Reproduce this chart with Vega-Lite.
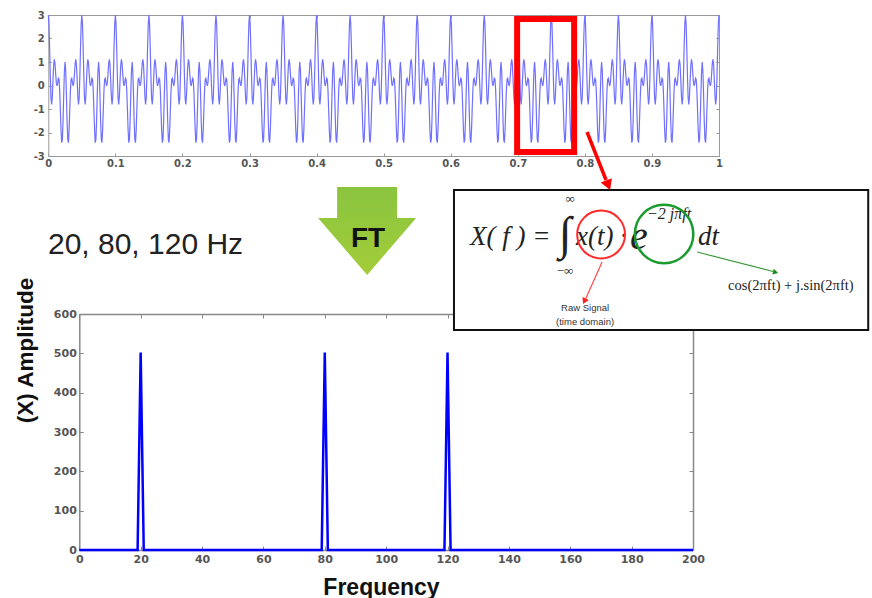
{
"$schema":"https://vega.github.io/schema/vega-lite/v6.json",
"width":872,"height":598,"autosize":{"type":"none"},"padding":0,"background":"white",
"config":{"view":{"stroke":null},"axis":{"grid":false,"labelFlush":false,"labelOverlap":false}},
"data":{"values":[{}]},
"datasets":{
"spectrum":[{"f":0,"a":0},{"f":19,"a":0},{"f":20,"a":502},{"f":21,"a":0},{"f":79,"a":0},{"f":80,"a":502},{"f":81,"a":0},{"f":119,"a":0},{"f":120,"a":502},{"f":121,"a":0},{"f":200,"a":0}],
"signal":[
{"ms":0,"v":3},{"ms":1,"v":2.6},{"ms":2,"v":1.57},{"ms":3,"v":0.36},{"ms":4,"v":-0.54},{"ms":5,"v":-0.81},{"ms":6,"v":-0.45},{"ms":7,"v":0.24},{"ms":8,"v":0.87},{"ms":9,"v":1.11},{"ms":10,"v":0.93},{"ms":11,"v":0.49},{"ms":12,"v":0.1},{"ms":13,"v":-0.02},{"ms":14,"v":0.12},{"ms":15,"v":0.31},{"ms":16,"v":0.26},{"ms":17,"v":-0.2},{"ms":18,"v":-1.03},{"ms":19,"v":-1.91},{"ms":20,"v":-2.43},{"ms":21,"v":-2.29},{"ms":22,"v":-1.5},{"ms":23,"v":-0.37},{"ms":24,"v":0.61},{"ms":25,"v":1},{"ms":26,"v":0.61},{"ms":27,"v":-0.37},{"ms":28,"v":-1.5},{"ms":29,"v":-2.29},{"ms":30,"v":-2.43},{"ms":31,"v":-1.91},{"ms":32,"v":-1.03},{"ms":33,"v":-0.2},{"ms":34,"v":0.26},{"ms":35,"v":0.31},{"ms":36,"v":0.12},{"ms":37,"v":-0.02},{"ms":38,"v":0.1},{"ms":39,"v":0.49},{"ms":40,"v":0.93},{"ms":41,"v":1.11},{"ms":42,"v":0.87},{"ms":43,"v":0.24},{"ms":44,"v":-0.45},{"ms":45,"v":-0.81},{"ms":46,"v":-0.54},{"ms":47,"v":0.36},{"ms":48,"v":1.57},{"ms":49,"v":2.6},
{"ms":50,"v":3},{"ms":51,"v":2.6},{"ms":52,"v":1.57},{"ms":53,"v":0.36},{"ms":54,"v":-0.54},{"ms":55,"v":-0.81},{"ms":56,"v":-0.45},{"ms":57,"v":0.24},{"ms":58,"v":0.87},{"ms":59,"v":1.11},{"ms":60,"v":0.93},{"ms":61,"v":0.49},{"ms":62,"v":0.1},{"ms":63,"v":-0.02},{"ms":64,"v":0.12},{"ms":65,"v":0.31},{"ms":66,"v":0.26},{"ms":67,"v":-0.2},{"ms":68,"v":-1.03},{"ms":69,"v":-1.91},{"ms":70,"v":-2.43},{"ms":71,"v":-2.29},{"ms":72,"v":-1.5},{"ms":73,"v":-0.37},{"ms":74,"v":0.61},{"ms":75,"v":1},{"ms":76,"v":0.61},{"ms":77,"v":-0.37},{"ms":78,"v":-1.5},{"ms":79,"v":-2.29},{"ms":80,"v":-2.43},{"ms":81,"v":-1.91},{"ms":82,"v":-1.03},{"ms":83,"v":-0.2},{"ms":84,"v":0.26},{"ms":85,"v":0.31},{"ms":86,"v":0.12},{"ms":87,"v":-0.02},{"ms":88,"v":0.1},{"ms":89,"v":0.49},{"ms":90,"v":0.93},{"ms":91,"v":1.11},{"ms":92,"v":0.87},{"ms":93,"v":0.24},{"ms":94,"v":-0.45},{"ms":95,"v":-0.81},{"ms":96,"v":-0.54},{"ms":97,"v":0.36},{"ms":98,"v":1.57},{"ms":99,"v":2.6},
{"ms":100,"v":3},{"ms":101,"v":2.6},{"ms":102,"v":1.57},{"ms":103,"v":0.36},{"ms":104,"v":-0.54},{"ms":105,"v":-0.81},{"ms":106,"v":-0.45},{"ms":107,"v":0.24},{"ms":108,"v":0.87},{"ms":109,"v":1.11},{"ms":110,"v":0.93},{"ms":111,"v":0.49},{"ms":112,"v":0.1},{"ms":113,"v":-0.02},{"ms":114,"v":0.12},{"ms":115,"v":0.31},{"ms":116,"v":0.26},{"ms":117,"v":-0.2},{"ms":118,"v":-1.03},{"ms":119,"v":-1.91},{"ms":120,"v":-2.43},{"ms":121,"v":-2.29},{"ms":122,"v":-1.5},{"ms":123,"v":-0.37},{"ms":124,"v":0.61},{"ms":125,"v":1},{"ms":126,"v":0.61},{"ms":127,"v":-0.37},{"ms":128,"v":-1.5},{"ms":129,"v":-2.29},{"ms":130,"v":-2.43},{"ms":131,"v":-1.91},{"ms":132,"v":-1.03},{"ms":133,"v":-0.2},{"ms":134,"v":0.26},{"ms":135,"v":0.31},{"ms":136,"v":0.12},{"ms":137,"v":-0.02},{"ms":138,"v":0.1},{"ms":139,"v":0.49},{"ms":140,"v":0.93},{"ms":141,"v":1.11},{"ms":142,"v":0.87},{"ms":143,"v":0.24},{"ms":144,"v":-0.45},{"ms":145,"v":-0.81},{"ms":146,"v":-0.54},{"ms":147,"v":0.36},{"ms":148,"v":1.57},{"ms":149,"v":2.6},
{"ms":150,"v":3},{"ms":151,"v":2.6},{"ms":152,"v":1.57},{"ms":153,"v":0.36},{"ms":154,"v":-0.54},{"ms":155,"v":-0.81},{"ms":156,"v":-0.45},{"ms":157,"v":0.24},{"ms":158,"v":0.87},{"ms":159,"v":1.11},{"ms":160,"v":0.93},{"ms":161,"v":0.49},{"ms":162,"v":0.1},{"ms":163,"v":-0.02},{"ms":164,"v":0.12},{"ms":165,"v":0.31},{"ms":166,"v":0.26},{"ms":167,"v":-0.2},{"ms":168,"v":-1.03},{"ms":169,"v":-1.91},{"ms":170,"v":-2.43},{"ms":171,"v":-2.29},{"ms":172,"v":-1.5},{"ms":173,"v":-0.37},{"ms":174,"v":0.61},{"ms":175,"v":1},{"ms":176,"v":0.61},{"ms":177,"v":-0.37},{"ms":178,"v":-1.5},{"ms":179,"v":-2.29},{"ms":180,"v":-2.43},{"ms":181,"v":-1.91},{"ms":182,"v":-1.03},{"ms":183,"v":-0.2},{"ms":184,"v":0.26},{"ms":185,"v":0.31},{"ms":186,"v":0.12},{"ms":187,"v":-0.02},{"ms":188,"v":0.1},{"ms":189,"v":0.49},{"ms":190,"v":0.93},{"ms":191,"v":1.11},{"ms":192,"v":0.87},{"ms":193,"v":0.24},{"ms":194,"v":-0.45},{"ms":195,"v":-0.81},{"ms":196,"v":-0.54},{"ms":197,"v":0.36},{"ms":198,"v":1.57},{"ms":199,"v":2.6},
{"ms":200,"v":3},{"ms":201,"v":2.6},{"ms":202,"v":1.57},{"ms":203,"v":0.36},{"ms":204,"v":-0.54},{"ms":205,"v":-0.81},{"ms":206,"v":-0.45},{"ms":207,"v":0.24},{"ms":208,"v":0.87},{"ms":209,"v":1.11},{"ms":210,"v":0.93},{"ms":211,"v":0.49},{"ms":212,"v":0.1},{"ms":213,"v":-0.02},{"ms":214,"v":0.12},{"ms":215,"v":0.31},{"ms":216,"v":0.26},{"ms":217,"v":-0.2},{"ms":218,"v":-1.03},{"ms":219,"v":-1.91},{"ms":220,"v":-2.43},{"ms":221,"v":-2.29},{"ms":222,"v":-1.5},{"ms":223,"v":-0.37},{"ms":224,"v":0.61},{"ms":225,"v":1},{"ms":226,"v":0.61},{"ms":227,"v":-0.37},{"ms":228,"v":-1.5},{"ms":229,"v":-2.29},{"ms":230,"v":-2.43},{"ms":231,"v":-1.91},{"ms":232,"v":-1.03},{"ms":233,"v":-0.2},{"ms":234,"v":0.26},{"ms":235,"v":0.31},{"ms":236,"v":0.12},{"ms":237,"v":-0.02},{"ms":238,"v":0.1},{"ms":239,"v":0.49},{"ms":240,"v":0.93},{"ms":241,"v":1.11},{"ms":242,"v":0.87},{"ms":243,"v":0.24},{"ms":244,"v":-0.45},{"ms":245,"v":-0.81},{"ms":246,"v":-0.54},{"ms":247,"v":0.36},{"ms":248,"v":1.57},{"ms":249,"v":2.6},
{"ms":250,"v":3},{"ms":251,"v":2.6},{"ms":252,"v":1.57},{"ms":253,"v":0.36},{"ms":254,"v":-0.54},{"ms":255,"v":-0.81},{"ms":256,"v":-0.45},{"ms":257,"v":0.24},{"ms":258,"v":0.87},{"ms":259,"v":1.11},{"ms":260,"v":0.93},{"ms":261,"v":0.49},{"ms":262,"v":0.1},{"ms":263,"v":-0.02},{"ms":264,"v":0.12},{"ms":265,"v":0.31},{"ms":266,"v":0.26},{"ms":267,"v":-0.2},{"ms":268,"v":-1.03},{"ms":269,"v":-1.91},{"ms":270,"v":-2.43},{"ms":271,"v":-2.29},{"ms":272,"v":-1.5},{"ms":273,"v":-0.37},{"ms":274,"v":0.61},{"ms":275,"v":1},{"ms":276,"v":0.61},{"ms":277,"v":-0.37},{"ms":278,"v":-1.5},{"ms":279,"v":-2.29},{"ms":280,"v":-2.43},{"ms":281,"v":-1.91},{"ms":282,"v":-1.03},{"ms":283,"v":-0.2},{"ms":284,"v":0.26},{"ms":285,"v":0.31},{"ms":286,"v":0.12},{"ms":287,"v":-0.02},{"ms":288,"v":0.1},{"ms":289,"v":0.49},{"ms":290,"v":0.93},{"ms":291,"v":1.11},{"ms":292,"v":0.87},{"ms":293,"v":0.24},{"ms":294,"v":-0.45},{"ms":295,"v":-0.81},{"ms":296,"v":-0.54},{"ms":297,"v":0.36},{"ms":298,"v":1.57},{"ms":299,"v":2.6},
{"ms":300,"v":3},{"ms":301,"v":2.6},{"ms":302,"v":1.57},{"ms":303,"v":0.36},{"ms":304,"v":-0.54},{"ms":305,"v":-0.81},{"ms":306,"v":-0.45},{"ms":307,"v":0.24},{"ms":308,"v":0.87},{"ms":309,"v":1.11},{"ms":310,"v":0.93},{"ms":311,"v":0.49},{"ms":312,"v":0.1},{"ms":313,"v":-0.02},{"ms":314,"v":0.12},{"ms":315,"v":0.31},{"ms":316,"v":0.26},{"ms":317,"v":-0.2},{"ms":318,"v":-1.03},{"ms":319,"v":-1.91},{"ms":320,"v":-2.43},{"ms":321,"v":-2.29},{"ms":322,"v":-1.5},{"ms":323,"v":-0.37},{"ms":324,"v":0.61},{"ms":325,"v":1},{"ms":326,"v":0.61},{"ms":327,"v":-0.37},{"ms":328,"v":-1.5},{"ms":329,"v":-2.29},{"ms":330,"v":-2.43},{"ms":331,"v":-1.91},{"ms":332,"v":-1.03},{"ms":333,"v":-0.2},{"ms":334,"v":0.26},{"ms":335,"v":0.31},{"ms":336,"v":0.12},{"ms":337,"v":-0.02},{"ms":338,"v":0.1},{"ms":339,"v":0.49},{"ms":340,"v":0.93},{"ms":341,"v":1.11},{"ms":342,"v":0.87},{"ms":343,"v":0.24},{"ms":344,"v":-0.45},{"ms":345,"v":-0.81},{"ms":346,"v":-0.54},{"ms":347,"v":0.36},{"ms":348,"v":1.57},{"ms":349,"v":2.6},
{"ms":350,"v":3},{"ms":351,"v":2.6},{"ms":352,"v":1.57},{"ms":353,"v":0.36},{"ms":354,"v":-0.54},{"ms":355,"v":-0.81},{"ms":356,"v":-0.45},{"ms":357,"v":0.24},{"ms":358,"v":0.87},{"ms":359,"v":1.11},{"ms":360,"v":0.93},{"ms":361,"v":0.49},{"ms":362,"v":0.1},{"ms":363,"v":-0.02},{"ms":364,"v":0.12},{"ms":365,"v":0.31},{"ms":366,"v":0.26},{"ms":367,"v":-0.2},{"ms":368,"v":-1.03},{"ms":369,"v":-1.91},{"ms":370,"v":-2.43},{"ms":371,"v":-2.29},{"ms":372,"v":-1.5},{"ms":373,"v":-0.37},{"ms":374,"v":0.61},{"ms":375,"v":1},{"ms":376,"v":0.61},{"ms":377,"v":-0.37},{"ms":378,"v":-1.5},{"ms":379,"v":-2.29},{"ms":380,"v":-2.43},{"ms":381,"v":-1.91},{"ms":382,"v":-1.03},{"ms":383,"v":-0.2},{"ms":384,"v":0.26},{"ms":385,"v":0.31},{"ms":386,"v":0.12},{"ms":387,"v":-0.02},{"ms":388,"v":0.1},{"ms":389,"v":0.49},{"ms":390,"v":0.93},{"ms":391,"v":1.11},{"ms":392,"v":0.87},{"ms":393,"v":0.24},{"ms":394,"v":-0.45},{"ms":395,"v":-0.81},{"ms":396,"v":-0.54},{"ms":397,"v":0.36},{"ms":398,"v":1.57},{"ms":399,"v":2.6},
{"ms":400,"v":3},{"ms":401,"v":2.6},{"ms":402,"v":1.57},{"ms":403,"v":0.36},{"ms":404,"v":-0.54},{"ms":405,"v":-0.81},{"ms":406,"v":-0.45},{"ms":407,"v":0.24},{"ms":408,"v":0.87},{"ms":409,"v":1.11},{"ms":410,"v":0.93},{"ms":411,"v":0.49},{"ms":412,"v":0.1},{"ms":413,"v":-0.02},{"ms":414,"v":0.12},{"ms":415,"v":0.31},{"ms":416,"v":0.26},{"ms":417,"v":-0.2},{"ms":418,"v":-1.03},{"ms":419,"v":-1.91},{"ms":420,"v":-2.43},{"ms":421,"v":-2.29},{"ms":422,"v":-1.5},{"ms":423,"v":-0.37},{"ms":424,"v":0.61},{"ms":425,"v":1},{"ms":426,"v":0.61},{"ms":427,"v":-0.37},{"ms":428,"v":-1.5},{"ms":429,"v":-2.29},{"ms":430,"v":-2.43},{"ms":431,"v":-1.91},{"ms":432,"v":-1.03},{"ms":433,"v":-0.2},{"ms":434,"v":0.26},{"ms":435,"v":0.31},{"ms":436,"v":0.12},{"ms":437,"v":-0.02},{"ms":438,"v":0.1},{"ms":439,"v":0.49},{"ms":440,"v":0.93},{"ms":441,"v":1.11},{"ms":442,"v":0.87},{"ms":443,"v":0.24},{"ms":444,"v":-0.45},{"ms":445,"v":-0.81},{"ms":446,"v":-0.54},{"ms":447,"v":0.36},{"ms":448,"v":1.57},{"ms":449,"v":2.6},
{"ms":450,"v":3},{"ms":451,"v":2.6},{"ms":452,"v":1.57},{"ms":453,"v":0.36},{"ms":454,"v":-0.54},{"ms":455,"v":-0.81},{"ms":456,"v":-0.45},{"ms":457,"v":0.24},{"ms":458,"v":0.87},{"ms":459,"v":1.11},{"ms":460,"v":0.93},{"ms":461,"v":0.49},{"ms":462,"v":0.1},{"ms":463,"v":-0.02},{"ms":464,"v":0.12},{"ms":465,"v":0.31},{"ms":466,"v":0.26},{"ms":467,"v":-0.2},{"ms":468,"v":-1.03},{"ms":469,"v":-1.91},{"ms":470,"v":-2.43},{"ms":471,"v":-2.29},{"ms":472,"v":-1.5},{"ms":473,"v":-0.37},{"ms":474,"v":0.61},{"ms":475,"v":1},{"ms":476,"v":0.61},{"ms":477,"v":-0.37},{"ms":478,"v":-1.5},{"ms":479,"v":-2.29},{"ms":480,"v":-2.43},{"ms":481,"v":-1.91},{"ms":482,"v":-1.03},{"ms":483,"v":-0.2},{"ms":484,"v":0.26},{"ms":485,"v":0.31},{"ms":486,"v":0.12},{"ms":487,"v":-0.02},{"ms":488,"v":0.1},{"ms":489,"v":0.49},{"ms":490,"v":0.93},{"ms":491,"v":1.11},{"ms":492,"v":0.87},{"ms":493,"v":0.24},{"ms":494,"v":-0.45},{"ms":495,"v":-0.81},{"ms":496,"v":-0.54},{"ms":497,"v":0.36},{"ms":498,"v":1.57},{"ms":499,"v":2.6},
{"ms":500,"v":3},{"ms":501,"v":2.6},{"ms":502,"v":1.57},{"ms":503,"v":0.36},{"ms":504,"v":-0.54},{"ms":505,"v":-0.81},{"ms":506,"v":-0.45},{"ms":507,"v":0.24},{"ms":508,"v":0.87},{"ms":509,"v":1.11},{"ms":510,"v":0.93},{"ms":511,"v":0.49},{"ms":512,"v":0.1},{"ms":513,"v":-0.02},{"ms":514,"v":0.12},{"ms":515,"v":0.31},{"ms":516,"v":0.26},{"ms":517,"v":-0.2},{"ms":518,"v":-1.03},{"ms":519,"v":-1.91},{"ms":520,"v":-2.43},{"ms":521,"v":-2.29},{"ms":522,"v":-1.5},{"ms":523,"v":-0.37},{"ms":524,"v":0.61},{"ms":525,"v":1},{"ms":526,"v":0.61},{"ms":527,"v":-0.37},{"ms":528,"v":-1.5},{"ms":529,"v":-2.29},{"ms":530,"v":-2.43},{"ms":531,"v":-1.91},{"ms":532,"v":-1.03},{"ms":533,"v":-0.2},{"ms":534,"v":0.26},{"ms":535,"v":0.31},{"ms":536,"v":0.12},{"ms":537,"v":-0.02},{"ms":538,"v":0.1},{"ms":539,"v":0.49},{"ms":540,"v":0.93},{"ms":541,"v":1.11},{"ms":542,"v":0.87},{"ms":543,"v":0.24},{"ms":544,"v":-0.45},{"ms":545,"v":-0.81},{"ms":546,"v":-0.54},{"ms":547,"v":0.36},{"ms":548,"v":1.57},{"ms":549,"v":2.6},
{"ms":550,"v":3},{"ms":551,"v":2.6},{"ms":552,"v":1.57},{"ms":553,"v":0.36},{"ms":554,"v":-0.54},{"ms":555,"v":-0.81},{"ms":556,"v":-0.45},{"ms":557,"v":0.24},{"ms":558,"v":0.87},{"ms":559,"v":1.11},{"ms":560,"v":0.93},{"ms":561,"v":0.49},{"ms":562,"v":0.1},{"ms":563,"v":-0.02},{"ms":564,"v":0.12},{"ms":565,"v":0.31},{"ms":566,"v":0.26},{"ms":567,"v":-0.2},{"ms":568,"v":-1.03},{"ms":569,"v":-1.91},{"ms":570,"v":-2.43},{"ms":571,"v":-2.29},{"ms":572,"v":-1.5},{"ms":573,"v":-0.37},{"ms":574,"v":0.61},{"ms":575,"v":1},{"ms":576,"v":0.61},{"ms":577,"v":-0.37},{"ms":578,"v":-1.5},{"ms":579,"v":-2.29},{"ms":580,"v":-2.43},{"ms":581,"v":-1.91},{"ms":582,"v":-1.03},{"ms":583,"v":-0.2},{"ms":584,"v":0.26},{"ms":585,"v":0.31},{"ms":586,"v":0.12},{"ms":587,"v":-0.02},{"ms":588,"v":0.1},{"ms":589,"v":0.49},{"ms":590,"v":0.93},{"ms":591,"v":1.11},{"ms":592,"v":0.87},{"ms":593,"v":0.24},{"ms":594,"v":-0.45},{"ms":595,"v":-0.81},{"ms":596,"v":-0.54},{"ms":597,"v":0.36},{"ms":598,"v":1.57},{"ms":599,"v":2.6},
{"ms":600,"v":3},{"ms":601,"v":2.6},{"ms":602,"v":1.57},{"ms":603,"v":0.36},{"ms":604,"v":-0.54},{"ms":605,"v":-0.81},{"ms":606,"v":-0.45},{"ms":607,"v":0.24},{"ms":608,"v":0.87},{"ms":609,"v":1.11},{"ms":610,"v":0.93},{"ms":611,"v":0.49},{"ms":612,"v":0.1},{"ms":613,"v":-0.02},{"ms":614,"v":0.12},{"ms":615,"v":0.31},{"ms":616,"v":0.26},{"ms":617,"v":-0.2},{"ms":618,"v":-1.03},{"ms":619,"v":-1.91},{"ms":620,"v":-2.43},{"ms":621,"v":-2.29},{"ms":622,"v":-1.5},{"ms":623,"v":-0.37},{"ms":624,"v":0.61},{"ms":625,"v":1},{"ms":626,"v":0.61},{"ms":627,"v":-0.37},{"ms":628,"v":-1.5},{"ms":629,"v":-2.29},{"ms":630,"v":-2.43},{"ms":631,"v":-1.91},{"ms":632,"v":-1.03},{"ms":633,"v":-0.2},{"ms":634,"v":0.26},{"ms":635,"v":0.31},{"ms":636,"v":0.12},{"ms":637,"v":-0.02},{"ms":638,"v":0.1},{"ms":639,"v":0.49},{"ms":640,"v":0.93},{"ms":641,"v":1.11},{"ms":642,"v":0.87},{"ms":643,"v":0.24},{"ms":644,"v":-0.45},{"ms":645,"v":-0.81},{"ms":646,"v":-0.54},{"ms":647,"v":0.36},{"ms":648,"v":1.57},{"ms":649,"v":2.6},
{"ms":650,"v":3},{"ms":651,"v":2.6},{"ms":652,"v":1.57},{"ms":653,"v":0.36},{"ms":654,"v":-0.54},{"ms":655,"v":-0.81},{"ms":656,"v":-0.45},{"ms":657,"v":0.24},{"ms":658,"v":0.87},{"ms":659,"v":1.11},{"ms":660,"v":0.93},{"ms":661,"v":0.49},{"ms":662,"v":0.1},{"ms":663,"v":-0.02},{"ms":664,"v":0.12},{"ms":665,"v":0.31},{"ms":666,"v":0.26},{"ms":667,"v":-0.2},{"ms":668,"v":-1.03},{"ms":669,"v":-1.91},{"ms":670,"v":-2.43},{"ms":671,"v":-2.29},{"ms":672,"v":-1.5},{"ms":673,"v":-0.37},{"ms":674,"v":0.61},{"ms":675,"v":1},{"ms":676,"v":0.61},{"ms":677,"v":-0.37},{"ms":678,"v":-1.5},{"ms":679,"v":-2.29},{"ms":680,"v":-2.43},{"ms":681,"v":-1.91},{"ms":682,"v":-1.03},{"ms":683,"v":-0.2},{"ms":684,"v":0.26},{"ms":685,"v":0.31},{"ms":686,"v":0.12},{"ms":687,"v":-0.02},{"ms":688,"v":0.1},{"ms":689,"v":0.49},{"ms":690,"v":0.93},{"ms":691,"v":1.11},{"ms":692,"v":0.87},{"ms":693,"v":0.24},{"ms":694,"v":-0.45},{"ms":695,"v":-0.81},{"ms":696,"v":-0.54},{"ms":697,"v":0.36},{"ms":698,"v":1.57},{"ms":699,"v":2.6},
{"ms":700,"v":3},{"ms":701,"v":2.6},{"ms":702,"v":1.57},{"ms":703,"v":0.36},{"ms":704,"v":-0.54},{"ms":705,"v":-0.81},{"ms":706,"v":-0.45},{"ms":707,"v":0.24},{"ms":708,"v":0.87},{"ms":709,"v":1.11},{"ms":710,"v":0.93},{"ms":711,"v":0.49},{"ms":712,"v":0.1},{"ms":713,"v":-0.02},{"ms":714,"v":0.12},{"ms":715,"v":0.31},{"ms":716,"v":0.26},{"ms":717,"v":-0.2},{"ms":718,"v":-1.03},{"ms":719,"v":-1.91},{"ms":720,"v":-2.43},{"ms":721,"v":-2.29},{"ms":722,"v":-1.5},{"ms":723,"v":-0.37},{"ms":724,"v":0.61},{"ms":725,"v":1},{"ms":726,"v":0.61},{"ms":727,"v":-0.37},{"ms":728,"v":-1.5},{"ms":729,"v":-2.29},{"ms":730,"v":-2.43},{"ms":731,"v":-1.91},{"ms":732,"v":-1.03},{"ms":733,"v":-0.2},{"ms":734,"v":0.26},{"ms":735,"v":0.31},{"ms":736,"v":0.12},{"ms":737,"v":-0.02},{"ms":738,"v":0.1},{"ms":739,"v":0.49},{"ms":740,"v":0.93},{"ms":741,"v":1.11},{"ms":742,"v":0.87},{"ms":743,"v":0.24},{"ms":744,"v":-0.45},{"ms":745,"v":-0.81},{"ms":746,"v":-0.54},{"ms":747,"v":0.36},{"ms":748,"v":1.57},{"ms":749,"v":2.6},
{"ms":750,"v":3},{"ms":751,"v":2.6},{"ms":752,"v":1.57},{"ms":753,"v":0.36},{"ms":754,"v":-0.54},{"ms":755,"v":-0.81},{"ms":756,"v":-0.45},{"ms":757,"v":0.24},{"ms":758,"v":0.87},{"ms":759,"v":1.11},{"ms":760,"v":0.93},{"ms":761,"v":0.49},{"ms":762,"v":0.1},{"ms":763,"v":-0.02},{"ms":764,"v":0.12},{"ms":765,"v":0.31},{"ms":766,"v":0.26},{"ms":767,"v":-0.2},{"ms":768,"v":-1.03},{"ms":769,"v":-1.91},{"ms":770,"v":-2.43},{"ms":771,"v":-2.29},{"ms":772,"v":-1.5},{"ms":773,"v":-0.37},{"ms":774,"v":0.61},{"ms":775,"v":1},{"ms":776,"v":0.61},{"ms":777,"v":-0.37},{"ms":778,"v":-1.5},{"ms":779,"v":-2.29},{"ms":780,"v":-2.43},{"ms":781,"v":-1.91},{"ms":782,"v":-1.03},{"ms":783,"v":-0.2},{"ms":784,"v":0.26},{"ms":785,"v":0.31},{"ms":786,"v":0.12},{"ms":787,"v":-0.02},{"ms":788,"v":0.1},{"ms":789,"v":0.49},{"ms":790,"v":0.93},{"ms":791,"v":1.11},{"ms":792,"v":0.87},{"ms":793,"v":0.24},{"ms":794,"v":-0.45},{"ms":795,"v":-0.81},{"ms":796,"v":-0.54},{"ms":797,"v":0.36},{"ms":798,"v":1.57},{"ms":799,"v":2.6},
{"ms":800,"v":3},{"ms":801,"v":2.6},{"ms":802,"v":1.57},{"ms":803,"v":0.36},{"ms":804,"v":-0.54},{"ms":805,"v":-0.81},{"ms":806,"v":-0.45},{"ms":807,"v":0.24},{"ms":808,"v":0.87},{"ms":809,"v":1.11},{"ms":810,"v":0.93},{"ms":811,"v":0.49},{"ms":812,"v":0.1},{"ms":813,"v":-0.02},{"ms":814,"v":0.12},{"ms":815,"v":0.31},{"ms":816,"v":0.26},{"ms":817,"v":-0.2},{"ms":818,"v":-1.03},{"ms":819,"v":-1.91},{"ms":820,"v":-2.43},{"ms":821,"v":-2.29},{"ms":822,"v":-1.5},{"ms":823,"v":-0.37},{"ms":824,"v":0.61},{"ms":825,"v":1},{"ms":826,"v":0.61},{"ms":827,"v":-0.37},{"ms":828,"v":-1.5},{"ms":829,"v":-2.29},{"ms":830,"v":-2.43},{"ms":831,"v":-1.91},{"ms":832,"v":-1.03},{"ms":833,"v":-0.2},{"ms":834,"v":0.26},{"ms":835,"v":0.31},{"ms":836,"v":0.12},{"ms":837,"v":-0.02},{"ms":838,"v":0.1},{"ms":839,"v":0.49},{"ms":840,"v":0.93},{"ms":841,"v":1.11},{"ms":842,"v":0.87},{"ms":843,"v":0.24},{"ms":844,"v":-0.45},{"ms":845,"v":-0.81},{"ms":846,"v":-0.54},{"ms":847,"v":0.36},{"ms":848,"v":1.57},{"ms":849,"v":2.6},
{"ms":850,"v":3},{"ms":851,"v":2.6},{"ms":852,"v":1.57},{"ms":853,"v":0.36},{"ms":854,"v":-0.54},{"ms":855,"v":-0.81},{"ms":856,"v":-0.45},{"ms":857,"v":0.24},{"ms":858,"v":0.87},{"ms":859,"v":1.11},{"ms":860,"v":0.93},{"ms":861,"v":0.49},{"ms":862,"v":0.1},{"ms":863,"v":-0.02},{"ms":864,"v":0.12},{"ms":865,"v":0.31},{"ms":866,"v":0.26},{"ms":867,"v":-0.2},{"ms":868,"v":-1.03},{"ms":869,"v":-1.91},{"ms":870,"v":-2.43},{"ms":871,"v":-2.29},{"ms":872,"v":-1.5},{"ms":873,"v":-0.37},{"ms":874,"v":0.61},{"ms":875,"v":1},{"ms":876,"v":0.61},{"ms":877,"v":-0.37},{"ms":878,"v":-1.5},{"ms":879,"v":-2.29},{"ms":880,"v":-2.43},{"ms":881,"v":-1.91},{"ms":882,"v":-1.03},{"ms":883,"v":-0.2},{"ms":884,"v":0.26},{"ms":885,"v":0.31},{"ms":886,"v":0.12},{"ms":887,"v":-0.02},{"ms":888,"v":0.1},{"ms":889,"v":0.49},{"ms":890,"v":0.93},{"ms":891,"v":1.11},{"ms":892,"v":0.87},{"ms":893,"v":0.24},{"ms":894,"v":-0.45},{"ms":895,"v":-0.81},{"ms":896,"v":-0.54},{"ms":897,"v":0.36},{"ms":898,"v":1.57},{"ms":899,"v":2.6},
{"ms":900,"v":3},{"ms":901,"v":2.6},{"ms":902,"v":1.57},{"ms":903,"v":0.36},{"ms":904,"v":-0.54},{"ms":905,"v":-0.81},{"ms":906,"v":-0.45},{"ms":907,"v":0.24},{"ms":908,"v":0.87},{"ms":909,"v":1.11},{"ms":910,"v":0.93},{"ms":911,"v":0.49},{"ms":912,"v":0.1},{"ms":913,"v":-0.02},{"ms":914,"v":0.12},{"ms":915,"v":0.31},{"ms":916,"v":0.26},{"ms":917,"v":-0.2},{"ms":918,"v":-1.03},{"ms":919,"v":-1.91},{"ms":920,"v":-2.43},{"ms":921,"v":-2.29},{"ms":922,"v":-1.5},{"ms":923,"v":-0.37},{"ms":924,"v":0.61},{"ms":925,"v":1},{"ms":926,"v":0.61},{"ms":927,"v":-0.37},{"ms":928,"v":-1.5},{"ms":929,"v":-2.29},{"ms":930,"v":-2.43},{"ms":931,"v":-1.91},{"ms":932,"v":-1.03},{"ms":933,"v":-0.2},{"ms":934,"v":0.26},{"ms":935,"v":0.31},{"ms":936,"v":0.12},{"ms":937,"v":-0.02},{"ms":938,"v":0.1},{"ms":939,"v":0.49},{"ms":940,"v":0.93},{"ms":941,"v":1.11},{"ms":942,"v":0.87},{"ms":943,"v":0.24},{"ms":944,"v":-0.45},{"ms":945,"v":-0.81},{"ms":946,"v":-0.54},{"ms":947,"v":0.36},{"ms":948,"v":1.57},{"ms":949,"v":2.6},
{"ms":950,"v":3},{"ms":951,"v":2.6},{"ms":952,"v":1.57},{"ms":953,"v":0.36},{"ms":954,"v":-0.54},{"ms":955,"v":-0.81},{"ms":956,"v":-0.45},{"ms":957,"v":0.24},{"ms":958,"v":0.87},{"ms":959,"v":1.11},{"ms":960,"v":0.93},{"ms":961,"v":0.49},{"ms":962,"v":0.1},{"ms":963,"v":-0.02},{"ms":964,"v":0.12},{"ms":965,"v":0.31},{"ms":966,"v":0.26},{"ms":967,"v":-0.2},{"ms":968,"v":-1.03},{"ms":969,"v":-1.91},{"ms":970,"v":-2.43},{"ms":971,"v":-2.29},{"ms":972,"v":-1.5},{"ms":973,"v":-0.37},{"ms":974,"v":0.61},{"ms":975,"v":1},{"ms":976,"v":0.61},{"ms":977,"v":-0.37},{"ms":978,"v":-1.5},{"ms":979,"v":-2.29},{"ms":980,"v":-2.43},{"ms":981,"v":-1.91},{"ms":982,"v":-1.03},{"ms":983,"v":-0.2},{"ms":984,"v":0.26},{"ms":985,"v":0.31},{"ms":986,"v":0.12},{"ms":987,"v":-0.02},{"ms":988,"v":0.1},{"ms":989,"v":0.49},{"ms":990,"v":0.93},{"ms":991,"v":1.11},{"ms":992,"v":0.87},{"ms":993,"v":0.24},{"ms":994,"v":-0.45},{"ms":995,"v":-0.81},{"ms":996,"v":-0.54},{"ms":997,"v":0.36},{"ms":998,"v":1.57},{"ms":999,"v":2.6},{"ms":1000,"v":3}
]},
"layer":[
{"layer":[
 {"data":{"name":"spectrum"},"mark":{"type":"line","color":"#0000ff","strokeWidth":2.5},
  "encoding":{
   "x":{"field":"f","type":"quantitative","scale":{"domain":[0,200],"range":[79.3,693],"nice":false,"zero":false},
    "axis":{"orient":"bottom","offset":-48,"values":[0,20,40,60,80,100,120,140,160,180,200],"tickSize":-4,"labelPadding":7,"tickColor":"#888","domainColor":"#888","domainWidth":1.5,"labelFont":"DejaVu Sans","labelFontWeight":"bold","labelFontSize":11,"labelColor":"#555",
     "title":"Frequency","titleFont":"Liberation Sans","titleFontSize":23,"titleFontWeight":"bold","titleColor":"#111","titleX":381,"titleY":44,"titleAlign":"center","titleBaseline":"alphabetic"}},
   "y":{"field":"a","type":"quantitative","scale":{"domain":[0,600],"range":[550,314],"nice":false,"zero":false},
    "axis":{"orient":"left","offset":-79.3,"values":[0,100,200,300,400,500,600],"tickSize":-4,"labelPadding":7,"tickColor":"#888","domainColor":"#888","domainWidth":1.5,"labelFont":"DejaVu Sans","labelFontWeight":"bold","labelFontSize":11,"labelColor":"#555",
     "title":"(X) Amplitude","titleFont":"Liberation Sans","titleFontSize":22.5,"titleFontWeight":"bold","titleColor":"#111","titleX":-47,"titleY":350,"titleAngle":270,"titleAlign":"center","titleBaseline":"alphabetic"}}}},
 {"mark":{"type":"point","opacity":0},
  "encoding":{
   "x":{"datum":0,"type":"quantitative","axis":{"orient":"top","offset":-314,"values":[0,20,40,60,80,100,120,140,160,180,200],"labels":false,"title":null,"tickSize":-4,"tickColor":"#888","domainColor":"#888","domainWidth":1.5}},
   "y":{"datum":0,"type":"quantitative","axis":{"orient":"right","offset":-179,"values":[0,100,200,300,400,500,600],"labels":false,"title":null,"tickSize":-4,"tickColor":"#888","domainColor":"#888","domainWidth":1.5}}}},
 {"mark":{"type":"rect","fill":"white","stroke":"#111","strokeWidth":2},
  "encoding":{"x":{"datum":122.1,"type":"quantitative","axis":null},"x2":{"datum":257.1},"y":{"datum":915.3,"type":"quantitative","axis":null},"y2":{"datum":559.3}}},
 {"mark":{"type":"text","text":"X( f ) =","font":"Liberation Serif","fontStyle":"italic","fontSize":27,"align":"left","baseline":"alphabetic","color":"#222"},
  "encoding":{"x":{"datum":127.35,"type":"quantitative","axis":null},"y":{"datum":775.4,"type":"quantitative","axis":null}}},
 {"mark":{"type":"text","text":"∫","font":"Liberation Serif","fontSize":46.5,"align":"center","baseline":"alphabetic","color":"#222"},
  "encoding":{"x":{"datum":158.3,"type":"quantitative","axis":null},"y":{"datum":766,"type":"quantitative","axis":null}}},
 {"mark":{"type":"text","text":"∞","font":"Liberation Serif","fontSize":13,"align":"center","baseline":"middle","color":"#222"},
  "encoding":{"x":{"datum":160,"type":"quantitative","axis":null},"y":{"datum":893,"type":"quantitative","axis":null}}},
 {"mark":{"type":"text","text":"−∞","font":"Liberation Serif","fontSize":13,"align":"center","baseline":"middle","color":"#222"},
  "encoding":{"x":{"datum":158.3,"type":"quantitative","axis":null},"y":{"datum":709,"type":"quantitative","axis":null}}},
 {"mark":{"type":"text","text":"x(t) ·","font":"Liberation Serif","fontStyle":"italic","fontSize":27,"align":"left","baseline":"alphabetic","color":"#222"},
  "encoding":{"x":{"datum":161.9,"type":"quantitative","axis":null},"y":{"datum":775.4,"type":"quantitative","axis":null}}},
 {"mark":{"type":"text","text":"e","font":"Liberation Serif","fontStyle":"italic","fontSize":40,"align":"left","baseline":"alphabetic","color":"#222"},
  "encoding":{"x":{"datum":179.5,"type":"quantitative","axis":null},"y":{"datum":765.3,"type":"quantitative","axis":null}}},
 {"mark":{"type":"text","text":"−2 jπft","font":"Liberation Serif","fontStyle":"italic","fontSize":16,"align":"left","baseline":"alphabetic","color":"#222"},
  "encoding":{"x":{"datum":185.03,"type":"quantitative","axis":null},"y":{"datum":841.5,"type":"quantitative","axis":null}}},
 {"mark":{"type":"text","text":"dt","font":"Liberation Serif","fontStyle":"italic","fontSize":27,"align":"left","baseline":"alphabetic","color":"#222"},
  "encoding":{"x":{"datum":201.66,"type":"quantitative","axis":null},"y":{"datum":775.4,"type":"quantitative","axis":null}}},
 {"mark":{"type":"text","text":"cos(2πft) + j.sin(2πft)","font":"Liberation Serif","fontSize":14.5,"align":"left","baseline":"alphabetic","color":"#222"},
  "encoding":{"x":{"datum":211.43,"type":"quantitative","axis":null},"y":{"datum":661,"type":"quantitative","axis":null}}},
 {"mark":{"type":"text","text":"Raw Signal","font":"Liberation Sans","fontSize":9.5,"align":"center","baseline":"middle","color":"#333"},
  "encoding":{"x":{"datum":164.83,"type":"quantitative","axis":null},"y":{"datum":615.3,"type":"quantitative","axis":null}}},
 {"mark":{"type":"text","text":"(time domain)","font":"Liberation Sans","fontSize":9.5,"align":"center","baseline":"middle","color":"#333"},
  "encoding":{"x":{"datum":164.83,"type":"quantitative","axis":null},"y":{"datum":579.7,"type":"quantitative","axis":null}}},
 {"mark":{"type":"point","shape":"circle","size":2290,"filled":false,"stroke":"#ff2a2a","strokeWidth":2,"opacity":1},
  "encoding":{"x":{"datum":170.05,"type":"quantitative","axis":null},"y":{"datum":802.1,"type":"quantitative","axis":null}}},
 {"mark":{"type":"point","shape":"circle","size":3421,"filled":false,"stroke":"#1a9b2e","strokeWidth":2.5,"opacity":1},
  "encoding":{"x":{"datum":190.58,"type":"quantitative","axis":null},"y":{"datum":803.4,"type":"quantitative","axis":null}}},
 {"mark":{"type":"rule","color":"#ff4a4a","strokeWidth":1.2},
  "encoding":{"x":{"datum":170.37,"type":"quantitative","axis":null},"y":{"datum":732.2,"type":"quantitative","axis":null},"x2":{"datum":164.99},"y2":{"datum":638.1}}},
 {"mark":{"type":"point","shape":"triangle-down","size":49,"filled":true,"color":"#ff2020","opacity":1,"angle":24.9},
  "encoding":{"x":{"datum":164.6,"type":"quantitative","axis":null},"y":{"datum":632.5,"type":"quantitative","axis":null}}},
 {"mark":{"type":"rule","color":"#3c9c3c","strokeWidth":1.2},
  "encoding":{"x":{"datum":201.34,"type":"quantitative","axis":null},"y":{"datum":757.6,"type":"quantitative","axis":null},"x2":{"datum":226.76},"y2":{"datum":706.8}}},
 {"mark":{"type":"point","shape":"triangle-right","size":36,"filled":true,"color":"#1a8a1a","opacity":1,"angle":14.5},
  "encoding":{"x":{"datum":226.92,"type":"quantitative","axis":null},"y":{"datum":706,"type":"quantitative","axis":null}}},
 {"mark":{"type":"text","text":"20, 80, 120 Hz","font":"Liberation Sans","fontSize":30,"align":"center","baseline":"alphabetic","color":"#222"},
  "encoding":{"x":{"datum":21.58,"type":"quantitative","axis":null},"y":{"datum":752.6,"type":"quantitative","axis":null}}},
 {"mark":{"type":"point","shape":"M-0.612,-0.898L0.612,-0.898L0.612,-0.265L1,-0.265L0,0.898L-1,-0.265L-0.612,-0.265Z","size":9604,"filled":true,"opacity":1,"strokeWidth":0,
   "fill":{"gradient":"linear","x1":0,"y1":0,"x2":0,"y2":1,"stops":[{"offset":0,"color":"#8ac43f"},{"offset":1,"color":"#a3cd39"}]}},
  "encoding":{"x":{"datum":93.8,"type":"quantitative","axis":null},"y":{"datum":811,"type":"quantitative","axis":null}}},
 {"mark":{"type":"text","text":"FT","font":"Liberation Sans","fontWeight":"bold","fontSize":28,"align":"center","baseline":"alphabetic","color":"#111"},
  "encoding":{"x":{"datum":94.1,"type":"quantitative","axis":null},"y":{"datum":771.1,"type":"quantitative","axis":null}}},
 {"mark":{"type":"rule","color":"#ff0000","strokeWidth":3.5},
  "encoding":{"x":{"datum":165.47,"type":"quantitative","axis":null},"y":{"datum":1062.7,"type":"quantitative","axis":null},"x2":{"datum":171.66},"y2":{"datum":940.7}}},
 {"mark":{"type":"point","shape":"triangle-down","size":144,"filled":true,"color":"#ff0000","opacity":1,"angle":-21.6},
  "encoding":{"x":{"datum":172.36,"type":"quantitative","axis":null},"y":{"datum":927.5,"type":"quantitative","axis":null}}}
 ],
 "resolve":{"scale":{"x":"shared","y":"shared"},"axis":{"x":"independent","y":"independent"}}},
{"layer":[
 {"data":{"name":"signal"},"mark":{"type":"line","color":"#7070ff","strokeWidth":1.2},
  "encoding":{
   "x":{"field":"ms","type":"quantitative","scale":{"domain":[0,1000],"range":[48.3,719],"nice":false,"zero":false},
    "axis":{"orient":"bottom","offset":-442,"values":[0,100,200,300,400,500,600,700,800,900,1000],"labelExpr":"datum.value / 1000","tickSize":-3,"labelPadding":5,"tickColor":"#999","domainColor":"#999","labelFont":"DejaVu Sans","labelFontWeight":"bold","labelFontSize":10,"labelColor":"#555","title":null}},
   "y":{"field":"v","type":"quantitative","scale":{"domain":[-3,3],"range":[156,15],"nice":false,"zero":false},
    "axis":{"orient":"left","offset":-48.3,"values":[-3,-2,-1,0,1,2,3],"labelExpr":"'' + datum.value","tickSize":-3,"labelPadding":7,"tickColor":"#999","domainColor":"#999","labelFont":"DejaVu Sans","labelFontWeight":"bold","labelFontSize":10,"labelColor":"#555","title":null}}}},
 {"mark":{"type":"point","opacity":0},
  "encoding":{
   "x":{"datum":0,"type":"quantitative","axis":{"orient":"top","offset":-15,"values":[0,100,200,300,400,500,600,700,800,900,1000],"labels":false,"title":null,"tickSize":-3,"tickColor":"#999","domainColor":"#999"}},
   "y":{"datum":0,"type":"quantitative","axis":{"orient":"right","offset":-153,"values":[-3,-2,-1,0,1,2,3],"labels":false,"title":null,"tickSize":-3,"tickColor":"#999","domainColor":"#999"}}}},
 {"mark":{"type":"rect","fill":"white","fillOpacity":0,"stroke":"#ff0000","strokeWidth":6},
  "encoding":{"x":{"datum":699,"type":"quantitative","axis":null},"x2":{"datum":784},"y":{"datum":2.83,"type":"quantitative","axis":null},"y2":{"datum":-2.83}}}
 ],
 "resolve":{"scale":{"x":"shared","y":"shared"},"axis":{"x":"independent","y":"independent"}}}
],
"resolve":{"scale":{"x":"independent","y":"independent"},"axis":{"x":"independent","y":"independent"}}
}
